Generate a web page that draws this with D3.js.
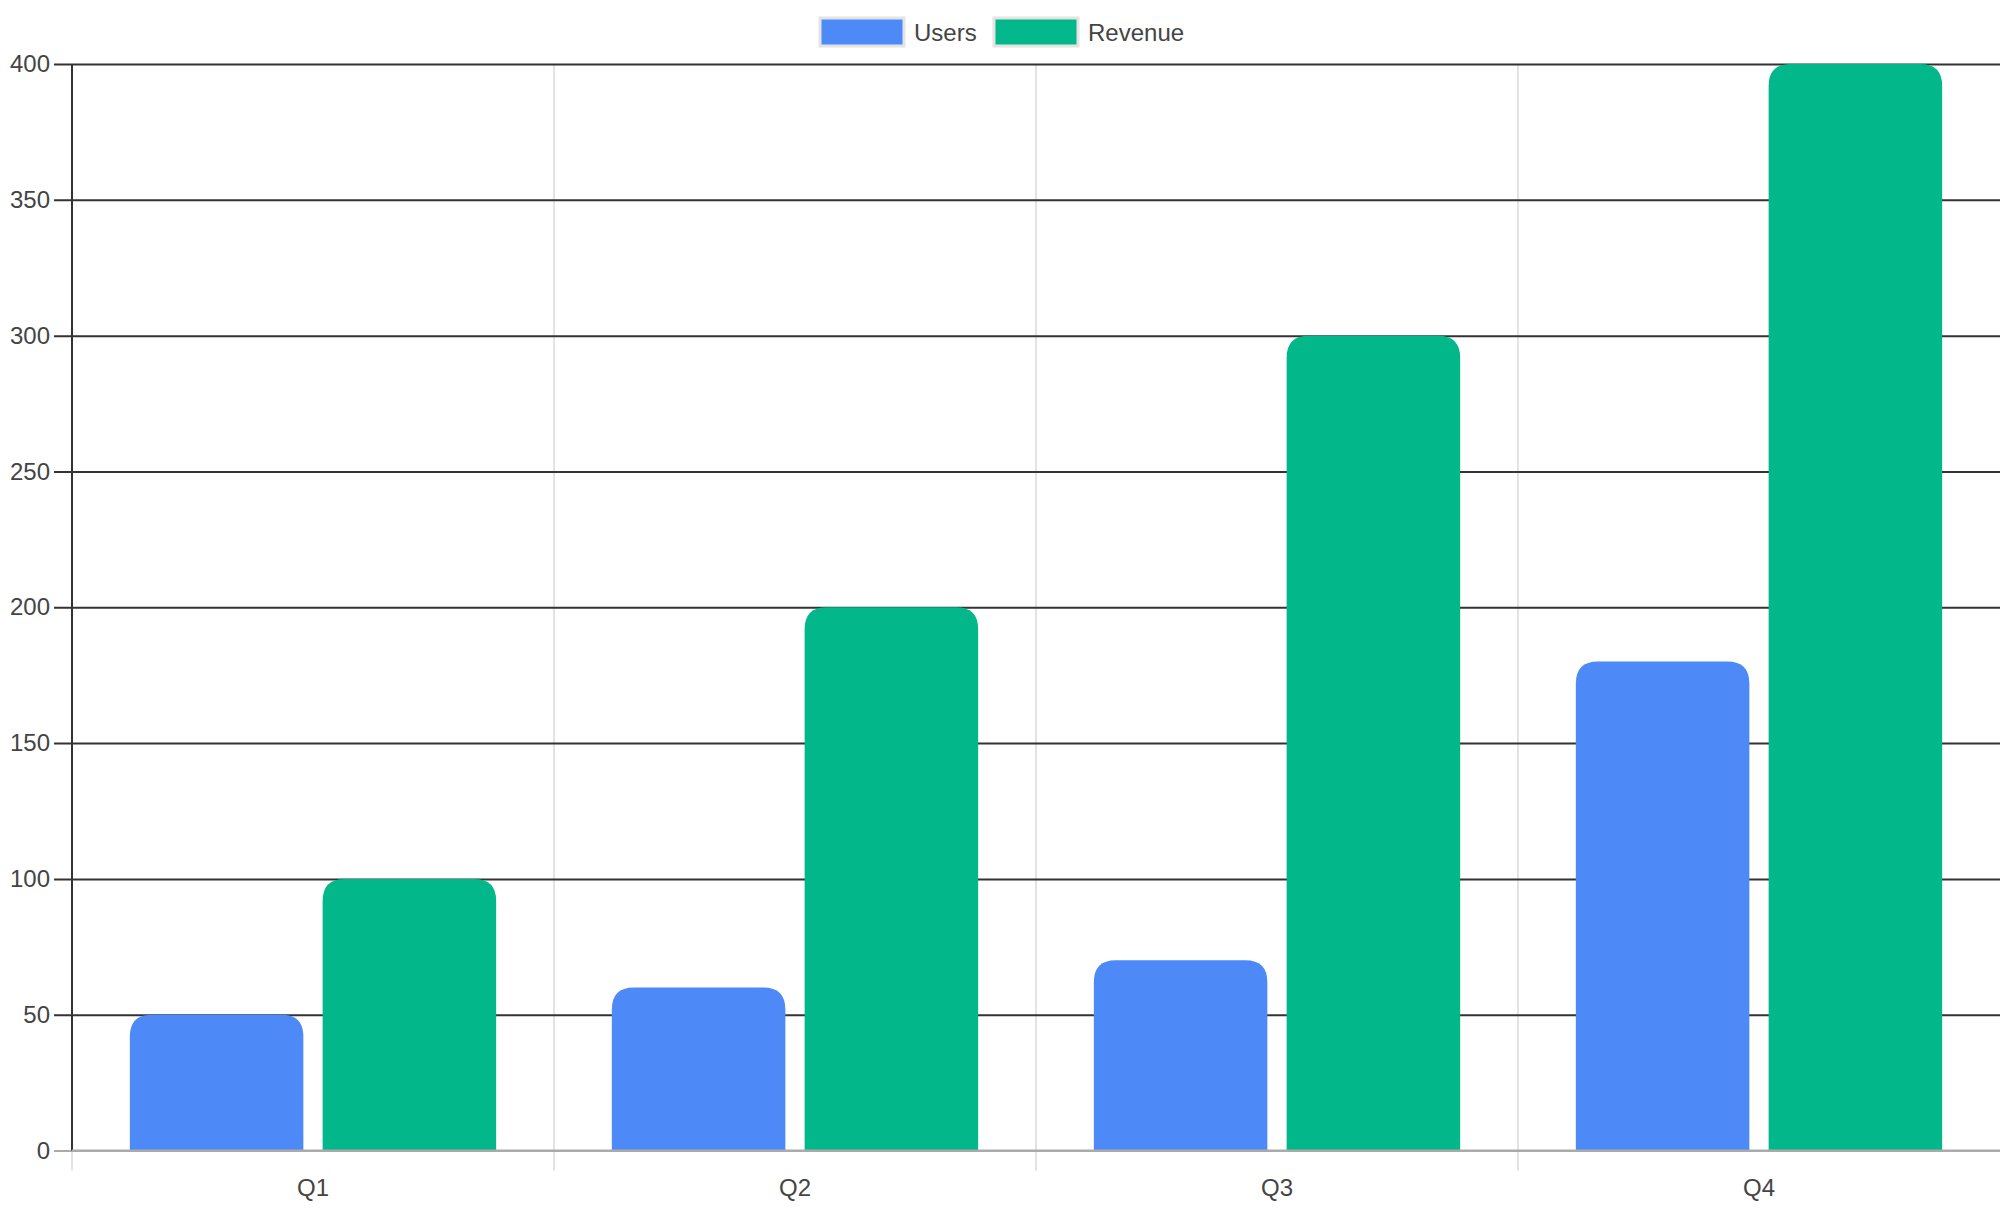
<!DOCTYPE html>
<html>
<head>
<meta charset="utf-8">
<script src="https://cdn.jsdelivr.net/npm/d3@7"></script>
<style>
  body { margin: 0; background: #fff; }
  svg { display: block; font-family: "Liberation Sans", Arial, sans-serif; }
</style>
</head>
<body>
<div id="chart"></div>
<script>
var quarters = ["Q1", "Q2", "Q3", "Q4"];
var seriesNames = ["Users", "Revenue"];
var users = [50, 60, 70, 180];
var revenue = [100, 200, 300, 400];
var yTicks = [0, 50, 100, 150, 200, 250, 300, 350, 400];
var colors = ["#4e89f8", "#02b789"];

var W = 2006, H = 1212;
var margin = { left: 72, right: 6, top: 64, bottom: 61.5 };

var svg = d3.select("#chart").append("svg")
    .attr("width", W).attr("height", H);

var x = d3.scaleBand()
    .domain(quarters)
    .range([margin.left, W - margin.right])
    .paddingInner(0).paddingOuter(0);

// chart.js style: categoryPercentage 0.8, barPercentage 0.9
var catW = x.bandwidth();
var slot = catW * 0.8 / 2;
var barW = slot * 0.9;

var y = d3.scaleLinear()
    .domain([0, 400])
    .range([H - margin.bottom, margin.top]);

var bottom = y(0);

// vertical grid lines
svg.append("g").selectAll("line")
    .data(quarters.slice(1))
    .enter().append("line")
    .attr("x1", function(d){ return x(d); })
    .attr("x2", function(d){ return x(d); })
    .attr("y1", margin.top)
    .attr("y2", bottom + 20)
    .attr("stroke", "#e3e3e3")
    .attr("stroke-width", 2);

// left edge tick below axis
svg.append("line")
    .attr("x1", margin.left).attr("x2", margin.left)
    .attr("y1", bottom).attr("y2", bottom + 20)
    .attr("stroke", "#e3e3e3").attr("stroke-width", 2);

// horizontal grid lines (y axis)
var yAxis = d3.axisLeft(y)
    .tickValues(yTicks)
    .tickSize(-(W - margin.right - margin.left))
    .tickPadding(26);

var gy = svg.append("g")
    .attr("transform", "translate(" + margin.left + ",0)")
    .call(yAxis);
gy.select(".domain").remove();
gy.selectAll(".tick line")
    .attr("x1", -18)
    .attr("stroke", function(d){ return d === 0 ? "#aaaaaa" : "#333333"; })
    .attr("stroke-width", 2);
gy.selectAll(".tick text")
    .attr("x", -22)
    .attr("fill", "#444")
    .style("font-size", "24px")
    .style("font-family", "Liberation Sans, Arial, sans-serif");

// bars
function roundTop(x0, y0, w, h, r) {
    r = Math.min(r, w / 2, h);
    return "M" + x0 + "," + (y0 + h) +
        "V" + (y0 + r) +
        "Q" + x0 + "," + y0 + " " + (x0 + r) + "," + y0 +
        "H" + (x0 + w - r) +
        "Q" + (x0 + w) + "," + y0 + " " + (x0 + w) + "," + (y0 + r) +
        "V" + (y0 + h) + "Z";
}

var allSeries = [users, revenue];
allSeries.forEach(function(vals, si) {
    svg.append("g").selectAll("path")
        .data(vals)
        .enter().append("path")
        .attr("d", function(d, i) {
            var bx = x(quarters[i]) + catW * 0.1 + si * slot + (slot - barW) / 2;
            var top = y(d);
            return roundTop(bx, top, barW, bottom - top, 22);
        })
        .attr("fill", colors[si]);
});

// left axis line
svg.append("line")
    .attr("x1", margin.left).attr("x2", margin.left)
    .attr("y1", margin.top).attr("y2", bottom)
    .attr("stroke", "#333").attr("stroke-width", 2);

// bottom axis line
svg.append("line")
    .attr("x1", margin.left).attr("x2", W - margin.right)
    .attr("y1", bottom).attr("y2", bottom)
    .attr("stroke", "#aaaaaa").attr("stroke-width", 2);

// x labels
svg.append("g").selectAll("text")
    .data(quarters)
    .enter().append("text")
    .attr("x", function(d){ return x(d) + catW / 2; })
    .attr("y", bottom + 45)
    .attr("text-anchor", "middle")
    .attr("fill", "#444")
    .style("font-size", "24px")
    .text(function(d){ return d; });

// legend
var legendItems = [
    { name: seriesNames[0], color: colors[0], bx: 820, tx: 914 },
    { name: seriesNames[1], color: colors[1], bx: 994, tx: 1088 }
];
var lg = svg.append("g");
lg.selectAll("rect")
    .data(legendItems)
    .enter().append("rect")
    .attr("x", function(d){ return d.bx; })
    .attr("y", 18)
    .attr("width", 84)
    .attr("height", 28)
    .attr("fill", function(d){ return d.color; })
    .attr("stroke", "#e4e4e4")
    .attr("stroke-width", 3);
lg.selectAll("text")
    .data(legendItems)
    .enter().append("text")
    .attr("x", function(d){ return d.tx; })
    .attr("y", 41)
    .attr("fill", "#444")
    .style("font-size", "24px")
    .text(function(d){ return d.name; });
</script>
</body>
</html>
